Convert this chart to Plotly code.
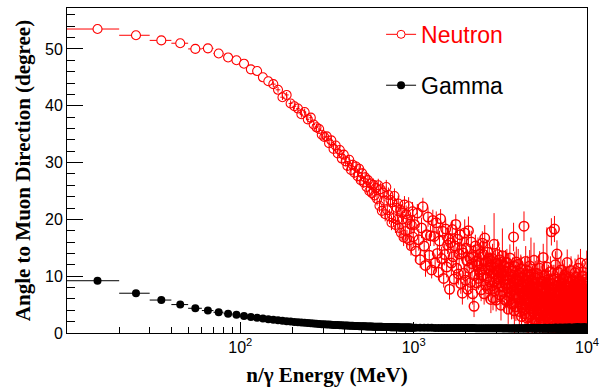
import plotly.graph_objects as go

# ---------------- data ----------------
BIN_HALF_WIDTH = 5  # MeV (10 MeV bins)

# bin centres (MeV)
neutron_energy_low = list(range(15, 1000, 10))      # 99 bins, 10..1000 MeV
neutron_energy_high = list(range(1010, 10000, 20))  # 450 sampled bins, 1..10 GeV
gamma_energy_low = list(range(15, 1000, 10))
gamma_energy_high = list(range(1030, 10000, 60))

neutron_angle_low = [
    53.5, 52.4, 51.5, 51.0, 50.0, 50.1, 49.2, 48.5, 48.0, 47.4,
    46.4, 46.1, 45.0, 44.3, 43.8, 42.8, 41.5, 41.9, 40.4, 39.9,
    39.5, 38.5, 38.9, 37.6, 37.9, 36.7, 36.2, 35.9, 34.9, 34.5,
    34.6, 33.4, 33.9, 32.4, 33.0, 31.6, 32.2, 30.7, 31.4, 30.2,
    29.4, 30.5, 28.7, 29.6, 28.2, 29.3, 27.6, 28.9, 26.9, 28.1,
    26.5, 27.4, 25.7, 26.9, 25.0, 26.3, 24.6, 26.1, 24.2, 25.5,
    23.6, 26.0, 22.4, 25.3, 21.5, 24.7, 23.3, 20.9, 25.7, 21.6,
    24.3, 20.5, 23.4, 19.4, 23.0, 20.2, 24.1, 19.0, 22.0, 19.9,
    22.8, 18.5, 21.7, 17.6, 21.2, 20.0, 16.8, 22.6, 17.9, 20.9,
    16.6, 19.9, 22.3, 16.3, 19.2, 15.3, 19.0, 21.4, 16.9,
]
neutron_err_low = [
    0.3, 0.3, 0.3, 0.3, 0.35, 0.35, 0.35, 0.4, 0.4, 0.4,
    0.4, 0.45, 0.45, 0.45, 0.5, 0.5, 0.5, 0.5, 0.55, 0.55,
    0.55, 0.6, 0.6, 0.6, 0.6, 0.65, 0.65, 0.65, 0.7, 0.7,
    0.7, 0.7, 0.75, 0.75, 0.75, 0.8, 0.8, 0.8, 0.8, 0.85,
    0.85, 0.85, 0.9, 0.9, 0.9, 0.9, 0.95, 0.95, 0.95, 1.0,
    1.0, 1.0, 1.0, 1.05, 1.05, 1.05, 1.1, 1.1, 1.1, 1.1,
    1.15, 1.15, 1.15, 1.2, 1.2, 1.2, 1.2, 1.25, 1.25, 1.25,
    1.3, 1.3, 1.3, 1.3, 1.35, 1.35, 1.35, 1.4, 1.4, 1.4,
    1.4, 1.45, 1.45, 1.45, 1.5, 1.5, 1.5, 1.5, 1.55, 1.55,
    1.55, 1.6, 1.6, 1.6, 1.6, 1.65, 1.65, 1.65, 1.7,
]
neutron_angle_high = [
    19.1, 14.4, 21.1, 16.4, 12.9, 18.5, 22.2, 15.3, 11.9, 17.3, 20.4, 13.7, 17.1, 11.1, 19.8,
    17.0, 12.3, 19.4, 14.0, 10.7, 16.2, 20.1, 13.1, 17.9, 9.6, 13.8, 18.3, 11.6, 15.5, 16.5,
    7.7, 15.9, 12.3, 18.2, 13.4, 9.5, 15.3, 19.1, 11.4, 16.5, 10.4, 13.9, 17.3, 8.7, 14.7,
    7.0, 14.1, 10.5, 17.6, 9.3, 14.9, 12.7, 7.7, 18.0, 11.4, 13.2, 8.9, 16.0, 12.2, 6.9,
    13.4, 4.7, 10.1, 15.3, 12.6, 8.8, 11.9, 14.7, 9.6, 12.3, 10.7, 13.9, 7.6, 11.2, 15.8,
    10.2, 13.8, 6.9, 16.7, 11.3, 8.4, 12.5, 9.7, 14.2, 7.8, 11.0, 13.1, 9.0, 12.0, 5.9,
    11.6, 8.3, 13.1, 6.2, 10.4, 15.6, 9.1, 7.4, 12.2, 5.8, 10.9, 8.7, 13.8, 9.5, 11.1,
    9.8, 12.9, 6.7, 11.2, 4.9, 10.5, 8.1, 13.6, 7.3, 9.4, 11.8, 5.9, 10.1, 8.6, 12.4,
    10.8, 5.6, 12.4, 7.9, 9.3, 4.2, 11.5, 8.6, 6.4, 13.2, 9.9, 7.1, 10.3, 5.1, 8.2,
    7.5, 10.9, 5.2, 16.9, 8.8, 3.9, 11.7, 6.8, 9.6, 4.6, 12.5, 7.9, 9.1, 6.1, 10.2,
    12.1, 6.3, 9.2, 3.8, 10.6, 7.4, 5.1, 11.3, 8.5, 2.9, 7.0, 9.8, 4.5, 8.0, 6.7,
    8.1, 18.8, 5.7, 10.2, 3.4, 7.6, 12.6, 4.9, 9.1, 6.2, 2.6, 8.6, 10.9, 5.3, 7.2,
    2.8, 9.9, 6.1, 11.8, 4.3, 7.9, 3.1, 10.4, 5.5, 8.3, 6.8, 1.9, 9.2, 4.8, 7.3,
    6.7, 3.6, 12.8, 5.2, 8.6, 2.4, 9.7, 4.8, 7.1, 1.9, 5.9, 10.5, 3.9, 6.4, 8.0,
    10.3, 5.9, 3.2, 8.2, 6.6, 1.8, 11.4, 4.4, 7.5, 2.7, 6.1, 9.0, 3.7, 5.4, 7.9,
    5.3, 9.1, 2.2, 6.9, 13.3, 3.9, 8.0, 1.5, 5.8, 10.1, 4.6, 7.2, 2.9, 6.3, 8.7,
    4.1, 7.7, 2.9, 11.6, 5.6, 1.2, 8.9, 3.5, 6.3, 9.4, 4.7, 2.3, 7.1, 5.0, 6.8,
    2.6, 6.4, 10.8, 4.0, 7.8, 1.7, 17.8, 5.0, 3.3, 8.7, 6.0, 2.1, 4.5, 9.3, 5.6,
    6.0, 2.1, 9.6, 4.5, 18.3, 7.1, 1.4, 5.4, 12.0, 3.0, 8.2, 4.9, 0.9, 6.6, 3.8,
    13.9, 3.7, 8.4, 1.0, 5.7, 10.7, 2.5, 6.5, 4.2, 9.0, 3.2, 7.4, 1.8, 5.1, 6.9,
    1.6, 7.2, 4.7, 11.1, 2.3, 6.1, 8.8, 0.9, 5.2, 3.4, 7.8, 4.0, 2.7, 9.6, 5.8,
    9.5, 2.8, 5.9, 1.3, 7.6, 4.0, 10.2, 3.1, 6.8, 0.7, 5.2, 8.4, 2.2, 4.6, 6.3,
    4.6, 8.3, 1.9, 6.2, 12.4, 3.6, 0.8, 7.0, 2.4, 5.5, 9.1, 3.9, 6.7, 1.5, 4.9,
    2.0, 6.6, 9.8, 3.3, 5.1, 0.6, 8.1, 4.4, 1.5, 11.0, 5.9, 2.7, 7.3, 3.8, 6.2,
    7.4, 3.8, 1.1, 5.8, 9.2, 2.6, 6.9, 0.5, 4.9, 8.5, 3.2, 5.5, 1.9, 7.0, 4.3,
    3.2, 10.6, 5.4, 1.7, 7.7, 2.9, 0.4, 6.3, 9.9, 4.1, 5.8, 2.3, 8.1, 3.6, 6.6,
    5.0, 1.4, 8.0, 3.5, 11.4, 6.0, 2.2, 0.6, 7.3, 4.5, 3.0, 9.0, 5.6, 1.9, 6.9,
    2.7, 9.1, 4.8, 12.3, 1.0, 6.7, 3.9, 8.6, 0.8, 5.3, 7.2, 2.4, 4.2, 10.0, 5.9,
    7.9, 3.0, 5.6, 1.8, 10.0, 4.3, 0.5, 6.4, 2.5, 8.9, 4.8, 6.9, 1.3, 3.7, 5.2,
    4.0, 6.6, 1.2, 9.4, 3.4, 7.5, 2.1, 5.0, 0.7, 8.2, 5.7, 3.1, 6.1, 12.2, 4.6,
]
neutron_err_high = [
    1.5, 1.7, 1.6, 1.9, 1.4, 1.8, 1.6, 1.5, 2.0, 1.4, 1.7, 1.6, 1.8, 1.5, 1.9,
    1.7, 1.5, 2.0, 1.6, 1.4, 1.8, 1.7, 2.1, 1.5, 1.6, 1.9, 1.7, 1.8, 1.6, 2.0,
    1.8, 1.6, 2.2, 1.7, 1.9, 1.5, 2.0, 1.8, 2.3, 1.7, 1.9, 2.1, 1.6, 1.8, 2.0,
    2.0, 1.8, 1.9, 2.4, 1.7, 2.1, 2.0, 1.8, 2.5, 1.9, 2.2, 1.8, 2.0, 2.3, 1.9,
    2.1, 1.9, 2.2, 2.0, 2.6, 1.8, 2.3, 2.1, 2.0, 2.4, 1.9, 2.2, 2.0, 2.5, 2.1,
    2.2, 2.5, 1.9, 2.3, 2.1, 2.7, 2.0, 2.4, 2.2, 2.1, 2.3, 2.0, 2.6, 2.2, 2.4,
    2.3, 2.1, 2.6, 2.2, 2.4, 5.5, 2.2, 2.5, 2.3, 2.0, 2.4, 2.2, 2.7, 2.3, 2.1,
    2.4, 2.2, 2.5, 2.3, 2.7, 2.1, 2.6, 4.8, 2.4, 2.2, 2.5, 2.3, 2.6, 2.4, 2.2,
    2.5, 2.3, 2.4, 2.8, 2.2, 2.6, 2.5, 2.3, 2.9, 2.4, 2.6, 2.5, 2.3, 2.7, 2.4,
    2.6, 2.4, 2.7, 2.5, 2.3, 6.2, 2.6, 2.8, 2.4, 2.5, 2.7, 2.4, 2.6, 2.5, 2.8,
    2.7, 2.5, 2.6, 2.9, 2.4, 2.8, 2.6, 2.5, 5.0, 2.7, 2.5, 2.8, 2.6, 2.4, 2.7,
    2.8, 2.6, 2.7, 3.0, 2.5, 2.9, 2.7, 2.6, 3.1, 2.8, 2.6, 2.9, 2.7, 2.5, 2.8,
    2.9, 2.7, 3.0, 2.8, 2.6, 3.2, 2.9, 6.4, 3.0, 2.8, 2.7, 2.9, 2.6, 3.0, 2.8,
    3.0, 2.8, 3.1, 2.9, 2.7, 3.3, 3.0, 2.8, 3.1, 2.9, 2.8, 3.0, 2.7, 3.1, 2.9,
    2.6, 2.8, 2.5, 2.9, 2.7, 2.4, 3.0, 2.6, 2.8, 2.5, 2.7, 2.9, 2.6, 2.8, 2.5,
    2.7, 2.5, 2.8, 2.6, 2.4, 2.9, 2.7, 2.5, 2.8, 2.6, 2.4, 2.7, 2.5, 2.9, 2.6,
    2.5, 2.7, 2.4, 7.0, 2.6, 2.8, 2.5, 2.7, 2.4, 2.6, 2.8, 2.5, 2.7, 2.6, 2.4,
    2.6, 2.4, 2.7, 2.5, 2.8, 2.6, 2.4, 2.7, 2.5, 2.3, 2.6, 2.8, 2.5, 2.7, 2.4,
    2.5, 2.7, 2.4, 2.6, 2.3, 2.8, 2.5, 2.7, 2.4, 2.6, 2.5, 2.3, 2.7, 2.4, 2.6,
    2.4, 2.6, 2.3, 2.7, 2.5, 2.4, 2.6, 2.3, 2.5, 2.7, 2.4, 2.6, 2.5, 2.3, 2.6,
    2.5, 2.3, 2.6, 2.4, 2.7, 2.5, 2.3, 2.6, 2.4, 2.5, 2.7, 2.3, 2.5, 2.6, 2.4,
    2.4, 2.6, 2.5, 2.3, 2.6, 2.4, 2.7, 2.5, 2.3, 2.5, 2.4, 2.6, 2.3, 2.5, 2.7,
    2.3, 2.5, 2.4, 2.6, 2.3, 2.5, 2.4, 2.6, 2.5, 2.3, 2.4, 2.6, 2.5, 2.4, 2.3,
    2.5, 2.4, 2.3, 2.6, 2.5, 2.3, 2.4, 2.6, 2.3, 2.5, 2.4, 2.3, 2.5, 2.6, 2.4,
    2.4, 2.3, 2.5, 2.4, 2.6, 2.3, 2.5, 2.4, 2.3, 2.5, 2.6, 2.4, 2.3, 2.5, 2.4,
    2.3, 2.5, 2.4, 2.3, 2.5, 2.4, 2.2, 2.5, 2.4, 2.3, 2.5, 2.4, 2.3, 2.4, 2.5,
    2.4, 2.2, 2.5, 2.3, 2.4, 2.2, 2.5, 2.3, 2.4, 2.2, 2.3, 2.5, 2.4, 2.3, 2.2,
    2.3, 2.4, 2.2, 2.5, 2.3, 2.2, 2.4, 2.3, 2.2, 2.4, 2.5, 2.3, 2.2, 2.4, 2.3,
    2.2, 2.3, 2.4, 2.2, 2.3, 2.5, 2.2, 2.3, 2.4, 2.2, 2.3, 2.2, 2.4, 2.3, 2.2,
    2.3, 2.2, 2.4, 2.3, 2.2, 2.3, 2.4, 2.2, 2.3, 2.2, 2.4, 2.3, 2.2, 2.3, 2.4,
]

gamma_angle_low = [
    9.2, 7.0, 5.8, 5.0, 4.35, 3.95, 3.65, 3.4, 3.2, 2.98,
    2.82, 2.67, 2.54, 2.43, 2.33, 2.24, 2.16, 2.08, 2.01, 1.95,
    1.89, 1.84, 1.79, 1.74, 1.7, 1.66, 1.62, 1.59, 1.56, 1.53,
    1.5, 1.48, 1.45, 1.43, 1.41, 1.39, 1.37, 1.35, 1.33, 1.32,
    1.3, 1.29, 1.27, 1.26, 1.25, 1.24, 1.22, 1.21, 1.2, 1.19,
    1.18, 1.17, 1.16, 1.15, 1.15, 1.14, 1.13, 1.12, 1.12, 1.11,
    1.1, 1.09, 1.09, 1.08, 1.08, 1.07, 1.06, 1.06, 1.05, 1.05,
    1.04, 1.04, 1.03, 1.03, 1.02, 1.02, 1.01, 1.01, 1.0, 1.0,
    1.0, 0.99, 0.99, 0.98, 0.98, 0.98, 0.97, 0.97, 0.97, 0.96,
    0.96, 0.96, 0.95, 0.95, 0.95, 0.94, 0.94, 0.94, 0.93,
]
gamma_angle_high = [
    0.93, 0.92, 0.92, 0.91, 0.91, 0.9, 0.9, 0.9, 0.89, 0.89,
    0.89, 0.88, 0.88, 0.88, 0.87, 0.87, 0.87, 0.86, 0.86, 0.86,
    0.86, 0.85, 0.85, 0.85, 0.85, 0.84, 0.84, 0.84, 0.84, 0.83,
    0.83, 0.83, 0.83, 0.83, 0.82, 0.82, 0.82, 0.83, 0.81, 0.82,
    0.82, 0.81, 0.83, 0.81, 0.8, 0.82, 0.81, 0.84, 0.8, 0.81,
    0.82, 0.79, 0.83, 0.8, 0.85, 0.79, 0.81, 0.86, 0.78, 0.82,
    0.8, 0.87, 0.78, 0.83, 0.79, 0.88, 0.8, 0.77, 0.84, 0.81,
    0.89, 0.78, 0.82, 0.76, 0.9, 0.8, 0.84, 0.77, 0.92, 0.79,
    0.81, 0.75, 0.88, 0.79, 0.94, 0.76, 0.83, 0.8, 0.74, 0.91,
    0.78, 0.86, 0.73, 0.95, 0.8, 0.77, 0.89, 0.72, 0.84, 0.97,
    0.76, 0.82, 0.93, 0.71, 0.87, 0.79, 0.99, 0.74, 0.85, 0.78,
    0.96, 0.7, 0.83, 0.88, 0.75, 1.01, 0.79, 0.73, 0.9, 0.81,
    0.72, 0.94, 0.86, 0.69, 1.02, 0.78, 0.84, 0.92, 0.71, 0.87,
    1.04, 0.76, 0.81, 0.68, 0.95, 0.83, 0.74, 1.0, 0.79, 0.89,
    0.7, 0.97, 0.85, 0.77, 1.05, 0.73, 0.91, 0.82, 0.67, 0.99,
]

x_tick_values = [100, 1000, 10000]
x_tick_labels = ["10<sup>2</sup>", "10<sup>3</sup>", "10<sup>4</sup>"]
y_tick_values = [0, 10, 20, 30, 40, 50]
series_names = ["Neutron", "Gamma"]
series_colors = ["#ff0000", "#000000"]

# ---------------- figure ----------------
gamma_x = gamma_energy_low + gamma_energy_high
gamma_y = gamma_angle_low + gamma_angle_high

# white fill only for the isolated low-energy neutron points (hides the bar inside the ring)
neutron_fill_low = ["white" if e < 150 else "rgba(0,0,0,0)" for e in neutron_energy_low]

fig = go.Figure()

fig.add_trace(go.Scatter(
    x=neutron_energy_low, y=neutron_angle_low, mode="markers", showlegend=False,
    marker=dict(symbol="circle", size=9, color=neutron_fill_low,
                line=dict(color=series_colors[0], width=1.1)),
    error_x=dict(type="constant", value=BIN_HALF_WIDTH, color=series_colors[0],
                 thickness=1, width=0),
    error_y=dict(type="data", array=neutron_err_low, color=series_colors[0],
                 thickness=1, width=0),
))
# dense high-energy region: bins overlap into a near-solid band
fig.add_trace(go.Scatter(
    x=neutron_energy_high, y=neutron_angle_high, mode="markers", showlegend=False,
    marker=dict(symbol="circle", size=9.5, color="rgba(0,0,0,0)",
                line=dict(color=series_colors[0], width=1.5)),
    error_x=dict(type="constant", value=BIN_HALF_WIDTH, color=series_colors[0],
                 thickness=1, width=0),
    error_y=dict(type="data", array=neutron_err_high, color=series_colors[0],
                 thickness=1, width=0),
))
fig.add_trace(go.Scatter(
    x=gamma_x, y=gamma_y, mode="markers", showlegend=False,
    marker=dict(symbol="circle", size=8, color=series_colors[1], line=dict(width=0)),
    error_x=dict(type="constant", value=BIN_HALF_WIDTH, color=series_colors[1],
                 thickness=1, width=0),
))

# legend entries (line + marker glyph, as in the original)
fig.add_trace(go.Scatter(
    x=[None], y=[None], mode="lines+markers", legendgroup="n",
    name="<span style='color:#ff0000'>" + series_names[0] + "</span>",
    line=dict(color=series_colors[0], width=1),
    marker=dict(symbol="circle", size=8, color="white",
                line=dict(color=series_colors[0], width=1)),
))
fig.add_trace(go.Scatter(
    x=[None], y=[None], mode="lines+markers", legendgroup="g",
    name=series_names[1],
    line=dict(color=series_colors[1], width=1),
    marker=dict(symbol="circle", size=8, color=series_colors[1]),
))

tick_font = dict(family="Liberation Sans, Arial, sans-serif", size=16, color="black")
title_font = dict(family="Liberation Serif, Times New Roman, serif", size=21,
                  color="black", weight="bold")

minor_x = [m * 10 ** d for d in (1, 2, 3) for m in range(2, 10)]

fig.update_layout(
    width=615, height=389,
    margin=dict(l=67, r=28, t=8, b=56, autoexpand=False),
    paper_bgcolor="white", plot_bgcolor="white",
    showlegend=True,
    legend=dict(x=0.604, y=0.985, xanchor="left", yanchor="top",
                bgcolor="rgba(0,0,0,0)", borderwidth=0,
                font=dict(family="Liberation Sans, Arial, sans-serif", size=23, color="black"),
                traceorder="grouped", tracegroupgap=18, itemwidth=30),
    xaxis=dict(
        type="log", range=[1, 4], automargin=False,
        tickvals=x_tick_values, ticktext=x_tick_labels,
        ticks="inside", ticklen=11, tickwidth=1, tickcolor="black",
        minor=dict(tickvals=minor_x, ticks="inside", ticklen=6, tickwidth=1,
                   tickcolor="black", showgrid=False),
        showgrid=False, zeroline=False,
        showline=True, mirror=True, linecolor="black", linewidth=1,
        tickfont=tick_font,
        title=dict(text="n/γ Energy (MeV)", font=title_font, standoff=12),
    ),
    yaxis=dict(
        range=[0, 57.2], automargin=False,
        tickvals=y_tick_values,
        ticks="inside", ticklen=16, tickwidth=1, tickcolor="black",
        minor=dict(dtick=2, ticks="inside", ticklen=8, tickwidth=1,
                   tickcolor="black", showgrid=False),
        showgrid=False, zeroline=False,
        showline=True, mirror=True, linecolor="black", linewidth=1,
        tickfont=tick_font,
        title=dict(text="Angle to Muon Direction (degree)", font=title_font, standoff=8),
    ),
)

fig.write_html("out.html", config={"displayModeBar": False},
               post_script="document.body.style.margin='0';")
